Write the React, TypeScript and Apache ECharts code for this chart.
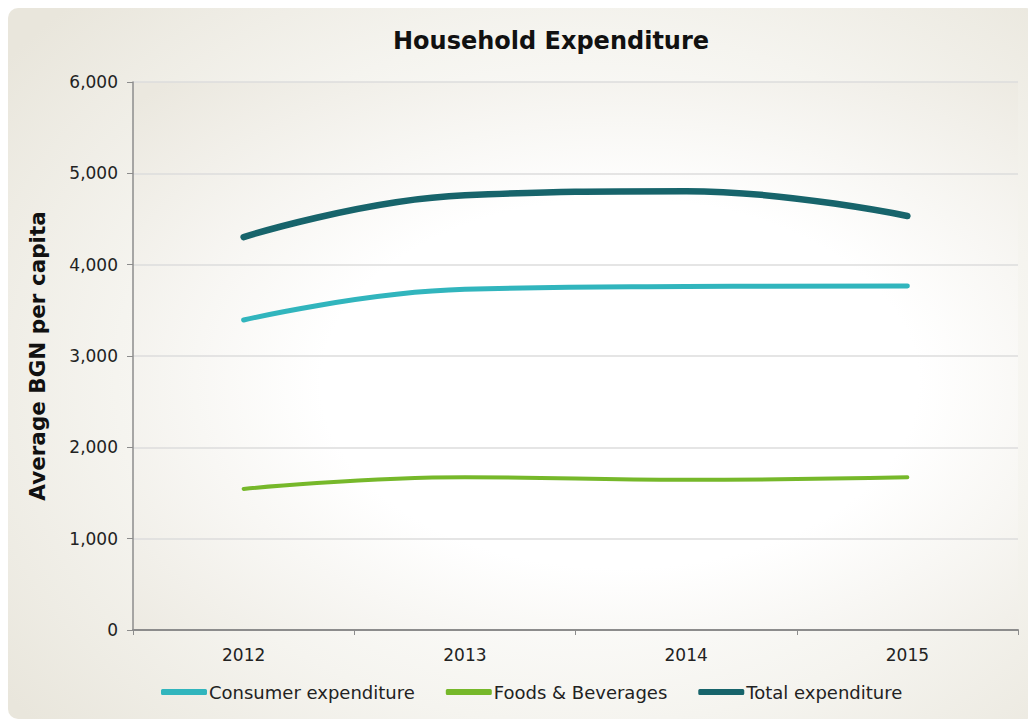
import React, { useEffect, useRef } from "react";
import * as echarts from "echarts";

const years = ["2012", "2013", "2014", "2015"];
const consumer = [3394, 3730, 3760, 3766];
const foods = [1545, 1672, 1645, 1672];
const total = [4302, 4760, 4805, 4533];
const yTicks = { min: 0, max: 6000, interval: 1000 };

const seriesNames = ["Consumer expenditure", "Foods & Beverages", "Total expenditure"];
const seriesColors = ["#31b5bd", "#76b82a", "#17646b"];
const seriesWidths = [5, 4, 6.5];

export default function App() {
  const ref = useRef<HTMLDivElement>(null);
  useEffect(() => {
    document.documentElement.style.overflow = "hidden";
    document.body.style.overflow = "hidden";
    const chart = echarts.init(ref.current!, null, { renderer: "svg" });
    const font = "'DejaVu Sans', Verdana, sans-serif";
    const dataSets = [consumer, foods, total];
    chart.setOption({
      animation: false,
      title: {
        text: "Household Expenditure",
        left: 380,
        top: 16,
        textStyle: { fontFamily: font, fontSize: 24, fontWeight: "bold", color: "#111" },
      },
      grid: {
        left: 125,
        right: 18,
        top: 74,
        bottom: 89,
        show: true,
        borderWidth: 0,
        backgroundColor: {
          type: "radial",
          x: 0.55,
          y: 0.55,
          r: 0.75,
          colorStops: [
            { offset: 0, color: "#ffffff" },
            { offset: 0.45, color: "#ffffff" },
            { offset: 1, color: "#ebe8df" },
          ],
        },
      },
      legend: {
        bottom: 13,
        left: 148,
        itemGap: 31,
        itemWidth: 46,
        itemHeight: 6,
        icon: "roundRect",
        textStyle: { fontFamily: font, fontSize: 18, color: "#222", padding: [0, 0, 0, -3] },
        data: seriesNames,
      },
      xAxis: {
        type: "category",
        data: years,
        boundaryGap: true,
        axisLine: { lineStyle: { color: "#8c8c8c", width: 2 } },
        axisTick: { show: true, length: 5, lineStyle: { color: "#8c8c8c", width: 1 } },
        axisLabel: { fontFamily: font, fontSize: 17, color: "#222", margin: 16 },
      },
      yAxis: {
        type: "value",
        min: yTicks.min,
        max: yTicks.max,
        interval: yTicks.interval,
        name: "Average BGN per capita",
        nameLocation: "middle",
        nameGap: 85,
        nameTextStyle: { fontFamily: font, fontSize: 21.5, fontWeight: "bold", color: "#111" },
        axisLine: { show: true, lineStyle: { color: "#8c8c8c", width: 1.5 } },
        axisTick: { show: true, length: 6, lineStyle: { color: "#8c8c8c" } },
        axisLabel: {
          fontFamily: font,
          fontSize: 17,
          color: "#222",
          margin: 15,
          formatter: (v: number) => v.toLocaleString("en-US"),
        },
        splitLine: { show: true, lineStyle: { color: "#dcdcdc", width: 1.5 } },
      },
      series: seriesNames.map((name, i) => ({
        name,
        type: "line",
        data: dataSets[i],
        smooth: 0.45,
        symbol: "none",
        color: seriesColors[i],
        lineStyle: { color: seriesColors[i], width: seriesWidths[i], cap: "round", join: "round" },
        itemStyle: { color: seriesColors[i] },
        z: 3 - i,
      })),
    });
    return () => chart.dispose();
  }, []);
  return (
    <div
      style={{
        width: 1028,
        height: 711,
        borderRadius: 10,
        background:
          "radial-gradient(ellipse 70% 75% at 56% 52%, #ffffff 0%, #ffffff 30%, #f5f4ef 65%, #e9e6dc 100%)",
      }}
    >
      <div ref={ref} style={{ width: 1028, height: 711 }} />
    </div>
  );
}
